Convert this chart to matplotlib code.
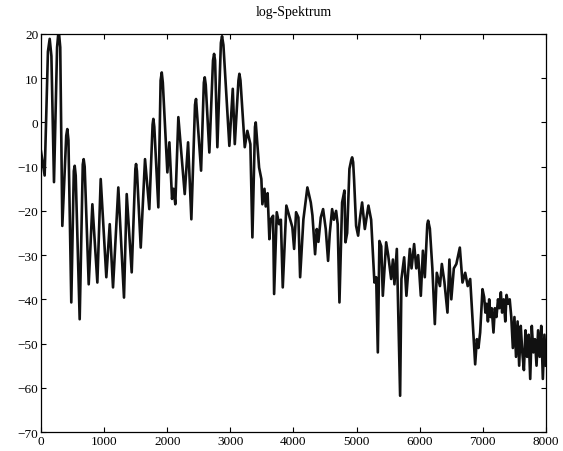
import matplotlib
matplotlib.use("Agg")
import matplotlib.pyplot as plt

plt.rcParams['font.family'] = ['Liberation Serif', 'DejaVu Serif']

title = "log-Spektrum"

freq = [0, 58, 110, 138, 165, 206, 255, 280, 305, 338, 400, 417, 435, 480, 520,
        534, 550, 613, 662, 676, 692, 756, 814, 893, 946, 1035, 1089, 1141,
        1225, 1315, 1358, 1437, 1495, 1506, 1520, 1580, 1648, 1716, 1768, 1780,
        1795, 1859, 1895, 1913, 1930, 2002, 2034, 2076, 2100, 2128, 2176, 2277,
        2330, 2382, 2440, 2456, 2536, 2580, 2594, 2610, 2667, 2725, 2742, 2758,
        2794, 2850, 2868, 2890, 2984, 3038, 3070, 3128, 3143, 3160, 3228, 3269,
        3317, 3349, 3390, 3402, 3455, 3491, 3507, 3540, 3560, 3590, 3618, 3640,
        3677, 3693, 3735, 3772, 3800, 3830, 3887, 3946, 3982, 4010, 4041, 4078,
        4105, 4157, 4220, 4274, 4300, 4342, 4369, 4395, 4432, 4469, 4511, 4548,
        4575, 4612, 4640, 4675, 4700, 4728, 4770, 4807, 4823, 4850, 4886, 4915,
        4929, 4945, 4960, 4992, 5024, 5050, 5087, 5130, 5187, 5230, 5282, 5310,
        5336, 5361, 5390, 5415, 5468, 5500, 5547, 5575, 5599, 5637, 5689, 5710,
        5753, 5789, 5843, 5870, 5911, 5945, 5975, 6017, 6050, 6080, 6120, 6133,
        6160, 6200, 6239, 6270, 6320, 6350, 6390, 6439, 6470, 6500, 6540, 6580,
        6635, 6677, 6720, 6760, 6799, 6851, 6878, 6905, 6930, 6957, 6994, 7020,
        7040, 7060, 7080, 7100, 7120, 7140, 7168, 7190, 7215, 7240, 7260, 7285,
        7305, 7330, 7355, 7375, 7400, 7425, 7450, 7475, 7500, 7525, 7550, 7575,
        7600, 7625, 7650, 7675, 7700, 7725, 7750, 7775, 7800, 7825, 7850, 7875,
        7900, 7925, 7950, 7975, 8000]

level_db = [-6.5, -12, 16, 18.9, 15, -13.5, 17, 21, 17, -23.4, -3, -1.5, -4,
            -40.7, -11, -9.8, -12, -44.5, -9.5, -8.3, -10, -36.6, -18.5, -36.2,
            -12.8, -35.0, -23.0, -37.3, -14.7, -39.6, -16.2, -33.9, -10.5, -9.4,
            -11, -28.3, -8.3, -19.6, -0.5, 0.8, -1, -19.2, 9.5, 11.3, 9, -11.3,
            -4.5, -17.3, -15, -18.5, 1.2, -16.2, -4.5, -21.9, 4, 5.3, -10.9, 9,
            10.2, 8.5, -6.8, 14, 15.5, 14, -5.6, 18, 19.5, 17.5, -5.3, 7.6, -4.9,
            9.5, 11.0, 9.5, -5.6, -1.9, -4.9, -26.0, -1, 0.0, -10.2, -12.8,
            -18.5, -15, -19, -16, -26.4, -21.9, -21.1, -38.8, -20.3, -23.0, -22,
            -37.3, -18.8, -21.9, -23.7, -28.6, -20.3, -21.5, -35.0, -21.9, -14.7,
            -18.1, -21, -29.8, -24.1, -27, -21.5, -19.6, -24.1, -31.3, -25, -19.6,
            -22, -20.0, -23, -40.7, -18.1, -15.4, -27.1, -25, -10.5, -8.5, -7.9,
            -9, -13, -23.4, -25.6, -22, -18.1, -24.1, -18.8, -22, -36.2, -35,
            -52.0, -26.8, -28, -39.2, -27.1, -30, -35.4, -31, -36.6, -28.6, -61.8,
            -35.4, -30.5, -39.2, -28.6, -33, -27.5, -33, -30, -39.2, -29, -35,
            -23, -22.2, -24, -33, -45.6, -34, -37, -32, -36, -43.0, -31, -40, -33,
            -32, -28.3, -36.2, -34, -37, -35.4, -48.3, -54.7, -49.0, -51, -47.5,
            -37.7, -39.5, -43, -41, -45, -40, -44, -42, -47.5, -42, -44, -40, -42,
            -38.4, -43, -40, -45, -39, -41, -40, -44, -51, -44, -53, -45, -55,
            -46, -52, -56, -47, -53, -48, -58, -46, -52, -49, -55, -47, -53, -46,
            -58, -48, -55]

xticks = [0, 1000, 2000, 3000, 4000, 5000, 6000, 7000, 8000]
yticks = [-70, -60, -50, -40, -30, -20, -10, 0, 10, 20]

fig = plt.figure(figsize=(5.63, 4.52), dpi=100)
ax = fig.add_axes([0.0728, 0.042, 0.897, 0.8806])
ax.plot(freq, level_db, color='#111111', lw=1.9)
ax.set_xlim(0, 8000)
ax.set_ylim(-70, 20)
ax.set_xticks(xticks)
ax.set_yticks(yticks)
ax.tick_params(direction='in', top=True, right=True, length=3.5, width=0.8,
               labelsize=9.5, pad=2)
for s in ax.spines.values():
    s.set_linewidth(0.9)
ax.set_title(title, fontsize=10, pad=14)
fig.savefig("out.png", dpi=100)
